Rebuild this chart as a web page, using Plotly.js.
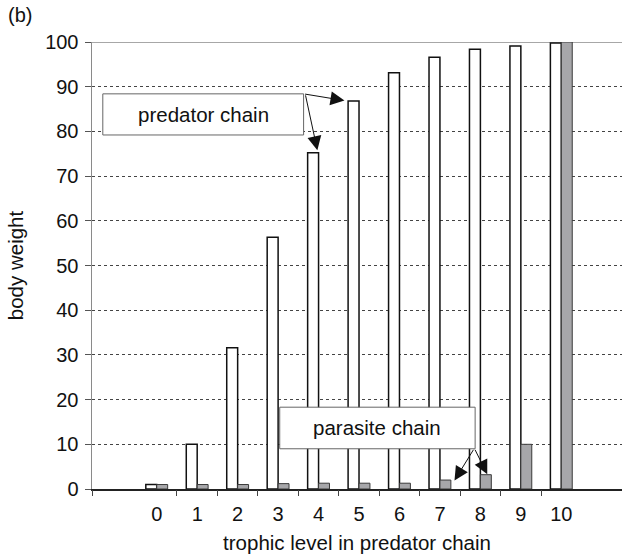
<!DOCTYPE html>
<html>
<head>
<meta charset="utf-8">
<script src="https://cdn.plot.ly/plotly-3.0.1.min.js"></script>
<style>html,body{margin:0;padding:0;background:#fff;}#chart{width:622px;height:557px;}</style>
</head>
<body>
<div id="chart"></div>
<script>
const levels = [0, 1, 2, 3, 4, 5, 6, 7, 8, 9, 10];
const tickLabels = ["0", "1", "2", "3", "4", "5", "6", "7", "8", "9", "10"];
const predatorChain = [1, 10, 31.6, 56.3, 75.2, 86.8, 93.1, 96.6, 98.4, 99.1, 99.8];
const parasiteChain = [1, 1, 1, 1.2, 1.3, 1.3, 1.3, 2, 3.2, 10, 100];
const boundaryTicks = [-1.59, 0.5, 1.5, 2.5, 3.5, 4.5, 5.5, 6.5, 7.5, 8.5, 9.5];

const FONT = "Liberation Sans, Arial, Helvetica, sans-serif";

const traces = [
  {
    type: "bar", name: "predator chain", x: levels, y: predatorChain,
    marker: {color: "#ffffff", line: {color: "#111111", width: 1.5}},
    hoverinfo: "x+y"
  },
  {
    type: "bar", name: "parasite chain", x: levels, y: parasiteChain,
    marker: {color: "#a7a7aa", line: {color: "#3a3a3a", width: 1}},
    hoverinfo: "x+y"
  },
  {
    type: "scatter", x: [], y: [], xaxis: "x2", yaxis: "y", showlegend: false, hoverinfo: "skip"
  }
];

const arrowStyle = {showarrow: true, arrowhead: 2, arrowsize: 2.8, arrowwidth: 1, arrowcolor: "#111",
  axref: "x", ayref: "y", xref: "x", yref: "y", text: "", standoff: 0, startstandoff: 0};

const layout = {
  width: 622, height: 557,
  margin: {l: 92, r: 0, t: 42, b: 68},
  paper_bgcolor: "#ffffff", plot_bgcolor: "#ffffff",
  showlegend: false,
  barmode: "group", bargap: 0.46, bargroupgap: 0,
  font: {family: FONT, size: 20, color: "#111"},
  xaxis: {
    range: [-1.6, 11.5], tickvals: levels, ticktext: tickLabels,
    ticks: "", showgrid: false, zeroline: false,
    showline: true, linecolor: "#222", linewidth: 1.5,
    tickfont: {family: FONT, size: 20, color: "#111"},
    ticklabelstandoff: 6,
    title: {text: "trophic level in predator chain", font: {family: FONT, size: 20.5, color: "#111"}, standoff: 12}
  },
  xaxis2: {
    overlaying: "x", anchor: "y", side: "bottom",
    range: [-1.6, 11.5], tickvals: boundaryTicks, ticktext: boundaryTicks.map(() => ""),
    ticks: "outside", ticklen: 6, tickwidth: 1, tickcolor: "#444",
    showline: false, showgrid: false, zeroline: false, showticklabels: false
  },
  yaxis: {
    range: [0, 100], tickvals: [0, 10, 20, 30, 40, 50, 60, 70, 80, 90, 100],
    ticks: "outside", ticklen: 6, tickwidth: 1, tickcolor: "#555",
    showline: true, linecolor: "#8a8a8a", linewidth: 1.5,
    showgrid: true, gridcolor: "#444", gridwidth: 1, griddash: "dot",
    zeroline: false,
    tickfont: {family: FONT, size: 20, color: "#111"},
    ticklabelstandoff: 2,
    title: {text: "body weight", font: {family: FONT, size: 20.5, color: "#111"}, standoff: 16}
  },
  shapes: [
    {type: "line", xref: "paper", yref: "y", x0: 0, x1: 1, y0: 100, y1: 100,
     line: {color: "#8a8a8a", width: 1.5}, layer: "below"},
    {type: "rect", xref: "x", yref: "y", x0: -1.333, x1: 3.63, y0: 79.2, y1: 88.4,
     fillcolor: "#ffffff", line: {color: "#666", width: 1}, layer: "above"},
    {type: "rect", xref: "x", yref: "y", x0: 3.04, x1: 7.87, y0: 9.0, y1: 18.3,
     fillcolor: "#ffffff", line: {color: "#666", width: 1}, layer: "above"}
  ],
  annotations: [
    {text: "(b)", xref: "paper", yref: "paper", x: -0.162, y: 1.06, xanchor: "left", yanchor: "middle",
     showarrow: false, font: {family: FONT, size: 20, color: "#111"}},
    {text: "predator chain", xref: "x", yref: "y", x: 1.15, y: 83.8, showarrow: false,
     font: {family: FONT, size: 20.5, color: "#111"}},
    {text: "parasite chain", xref: "x", yref: "y", x: 5.45, y: 13.65, showarrow: false,
     font: {family: FONT, size: 20.5, color: "#111"}},
    Object.assign({}, arrowStyle, {x: 4.64, y: 86.9, ax: 3.63, ay: 88.4}),
    Object.assign({}, arrowStyle, {x: 3.97, y: 75.8, ax: 3.67, ay: 88.4}),
    Object.assign({}, arrowStyle, {x: 7.36, y: 1.9, ax: 7.85, ay: 9.1}),
    Object.assign({}, arrowStyle, {x: 8.17, y: 3.3, ax: 7.85, ay: 9.1})
  ]
};

Plotly.newPlot("chart", traces, layout, {displayModeBar: false, staticPlot: true});
</script>
</body>
</html>
